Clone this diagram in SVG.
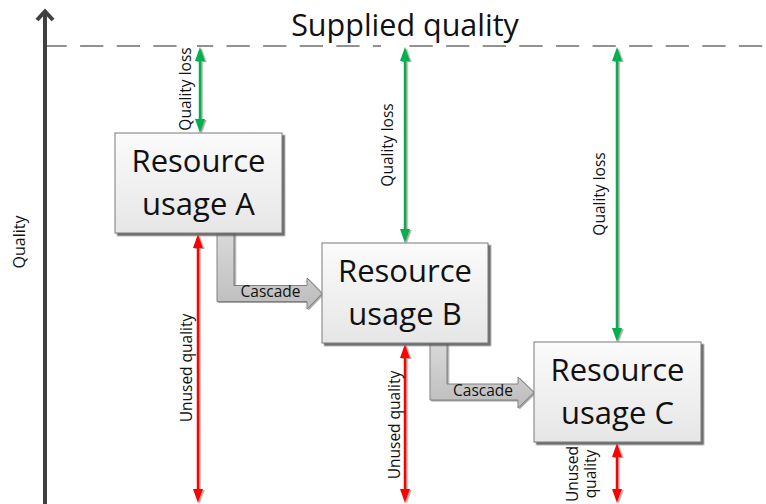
<svg xmlns="http://www.w3.org/2000/svg" width="766" height="504" viewBox="0 0 766 504">
  <style>
    text { font-family: "Open Sans", "Liberation Sans", sans-serif; fill: #111; }
    .title { font-size: 30.5px; }
    .box-label { font-size: 31px; text-anchor: middle; }
    .small { font-size: 15.5px; text-anchor: middle; }
    .axis-label { font-size: 16px; text-anchor: middle; }
    .box { fill: url(#boxFill); stroke: #7a7a7a; stroke-width: 1; filter: url(#boxShadow); }
    .cascade { fill: url(#cascadeFill); stroke: #808080; stroke-width: 1; filter: url(#lineShadow); }
    .loss { stroke: #00b050; stroke-width: 2.5; fill: none; marker-start: url(#headGreen); marker-end: url(#headGreen); filter: url(#lineShadow); }
    .unused { stroke: #ff0000; stroke-width: 2.5; fill: none; marker-start: url(#headRed); marker-end: url(#headRed); filter: url(#lineShadow); }
    .label-bg { fill: #ffffff; }
  </style>
  <defs>
    <linearGradient id="boxFill" x1="0" y1="0" x2="0" y2="1">
      <stop offset="0" stop-color="#fbfbfb"/>
      <stop offset="1" stop-color="#e6e6e6"/>
    </linearGradient>
    <linearGradient id="cascadeFill" x1="0" y1="0" x2="0" y2="1">
      <stop offset="0" stop-color="#d9d9d9"/>
      <stop offset="1" stop-color="#bdbdbd"/>
    </linearGradient>
    <filter id="boxShadow" filterUnits="userSpaceOnUse" x="0" y="0" width="766" height="504">
      <feDropShadow dx="2.5" dy="2.5" stdDeviation="0.2" flood-color="#5e5e5e" flood-opacity="0.9"/>
    </filter>
    <filter id="lineShadow" filterUnits="userSpaceOnUse" x="0" y="0" width="766" height="504">
      <feDropShadow dx="1.5" dy="1" stdDeviation="0.3" flood-color="#8c8c8c" flood-opacity="0.8"/>
    </filter>
    <marker id="headGreen" markerUnits="userSpaceOnUse" markerWidth="16" markerHeight="12" refX="6" refY="5" orient="auto-start-reverse">
      <path d="M0,0 L14,5 L0,10 Z" fill="#00b050"/>
    </marker>
    <marker id="headRed" markerUnits="userSpaceOnUse" markerWidth="16" markerHeight="12" refX="6" refY="5" orient="auto-start-reverse">
      <path d="M0,0 L14,5 L0,10 Z" fill="#ff0000"/>
    </marker>
  </defs>

  <rect width="766" height="504" fill="#ffffff"/>

  <!-- supplied quality level -->
  <g id="supplied-level">
    <line x1="43.5" y1="46" x2="766" y2="46" stroke="#6e6e6e" stroke-width="1.6" stroke-dasharray="23.3 13.3"/>
    <text class="title" x="405" y="36" text-anchor="middle">Supplied quality</text>
  </g>

  <!-- vertical quality axis -->
  <g id="axis">
    <line x1="45" y1="504" x2="45" y2="12" stroke="#404040" stroke-width="4"/>
    <polyline points="37,20 45,11.5 53,20" fill="none" stroke="#404040" stroke-width="4" stroke-linejoin="miter"/>
    <text class="axis-label" transform="translate(25,242) rotate(-90)">Quality</text>
  </g>

  <!-- connectors -->
  <g id="connectors">
    <path class="cascade" d="M217,233 L234,233 L234,285.5 L307,285.5 L307,278 L322,293.5 L307,309 L307,301.5 L217,301.5 Z"/>
    <text class="small" x="270.5" y="297">Cascade</text>
    <path class="cascade" d="M430,343 L447,343 L447,384 L518,384 L518,377 L534,392.5 L518,408 L518,400 L430,400 Z"/>
    <text class="small" x="483" y="396">Cascade</text>

    <rect class="label-bg" x="177" y="44" width="20" height="88"/>
    <rect class="label-bg" x="381" y="44" width="17" height="198"/>

    <line class="loss" x1="200" y1="55" x2="200" y2="125"/>
    <text class="small" transform="translate(190.5,89) rotate(-90)">Quality loss</text>
    <line class="loss" x1="405" y1="55" x2="405" y2="235"/>
    <text class="small" transform="translate(392.5,145) rotate(-90)">Quality loss</text>
    <line class="loss" x1="617" y1="55" x2="617" y2="334"/>
    <text class="small" transform="translate(604.5,194) rotate(-90)">Quality loss</text>

    <line class="unused" x1="198" y1="242" x2="198" y2="495"/>
    <text class="small" transform="translate(191.5,368) rotate(-90)">Unused quality</text>
    <line class="unused" x1="405" y1="352" x2="405" y2="495"/>
    <text class="small" transform="translate(399.5,425) rotate(-90)">Unused quality</text>
    <line class="unused" x1="617" y1="451" x2="617" y2="495"/>
    <text class="small" transform="translate(578,474) rotate(-90)">Unused</text>
    <text class="small" transform="translate(596,474) rotate(-90)">quality</text>
  </g>

  <!-- resource usage nodes -->
  <g id="usage-a">
    <rect class="box" x="115" y="133" width="167" height="100"/>
    <text class="box-label" x="198.5" y="172">Resource</text>
    <text class="box-label" x="198.5" y="215">usage A</text>
  </g>
  <g id="usage-b">
    <rect class="box" x="322" y="243" width="166" height="100"/>
    <text class="box-label" x="405" y="282">Resource</text>
    <text class="box-label" x="405" y="325">usage B</text>
  </g>
  <g id="usage-c">
    <rect class="box" x="534" y="342" width="167" height="100"/>
    <text class="box-label" x="617.5" y="381">Resource</text>
    <text class="box-label" x="617.5" y="424">usage C</text>
  </g>
</svg>
